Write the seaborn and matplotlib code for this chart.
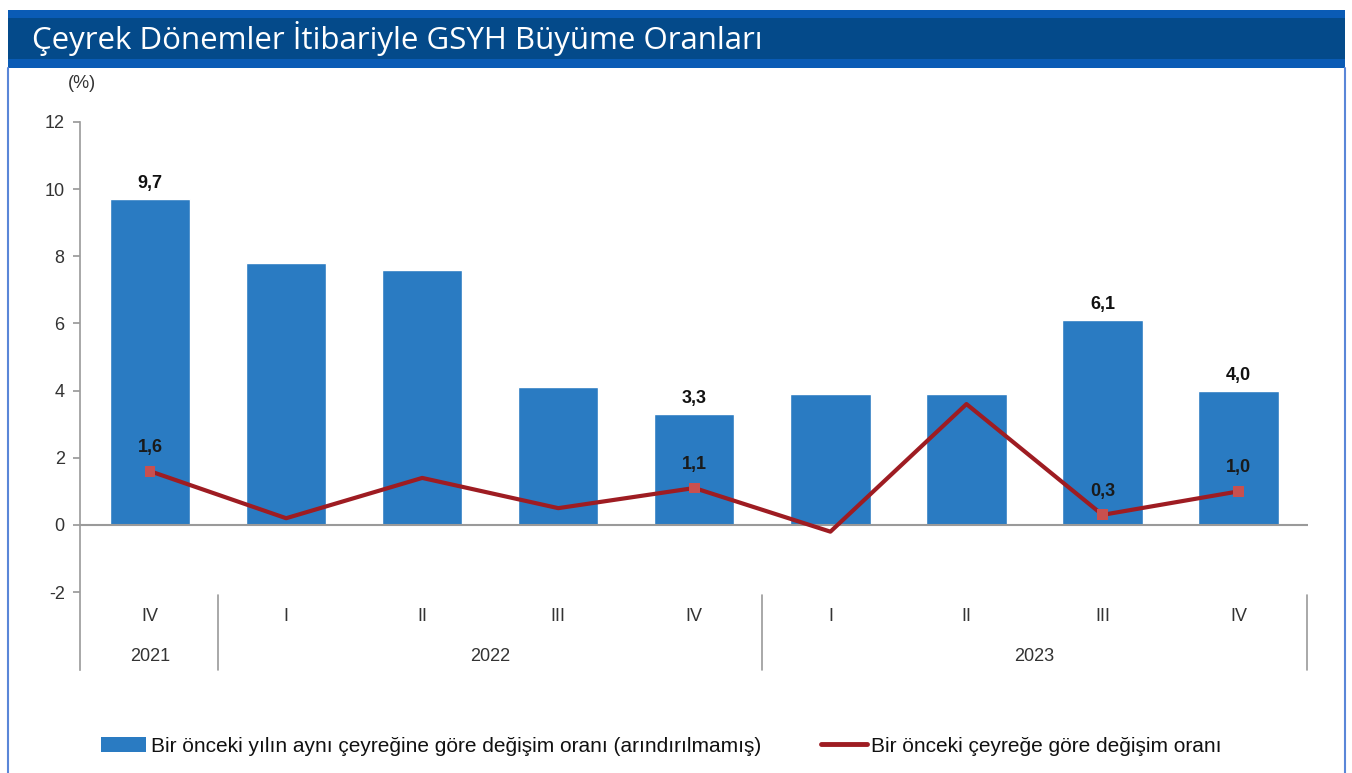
import numpy as np
import pandas as pd
import matplotlib
matplotlib.use("Agg")
import matplotlib.pyplot as plt
import seaborn as sns
from matplotlib.patches import Rectangle, Patch
from matplotlib.lines import Line2D

# data
quarters = ["IV", "I", "II", "III", "IV", "I", "II", "III", "IV"]
years = ["2021", "2022", "2022", "2022", "2022", "2023", "2023", "2023", "2023"]
yoy = [9.7, 7.8, 7.6, 4.1, 3.3, 3.9, 3.9, 6.1, 4.0]
qoq = [1.6, 0.2, 1.4, 0.5, 1.1, -0.2, 3.6, 0.3, 1.0]
labelled = [0, 4, 7, 8]
year_groups = [("2021", 0, 0), ("2022", 1, 4), ("2023", 5, 8)]

title = "Çeyrek Dönemler İtibariyle GSYH Büyüme Oranları"
legend_labels = ["Bir önceki yılın aynı çeyreğine göre değişim oranı (arındırılmamış)",
                 "Bir önceki çeyreğe göre değişim oranı"]

BAR = "#2a7bc2"
LINE = "#9e1c22"
MARK = "#c8504f"
GRAY = "#9a9a9a"
TXT = "#333333"

sns.set_theme(style="white")
plt.rcParams["font.family"] = ["Liberation Sans", "DejaVu Sans"]
plt.rcParams["axes.unicode_minus"] = False

df = pd.DataFrame({"period": [f"{y}-{q}" for y, q in zip(years, quarters)],
                   "yoy": yoy, "qoq": qoq})
df["pos"] = np.arange(len(df))

fig = plt.figure(figsize=(13.52, 7.73), dpi=100)
W, H = 1352, 773

# title band
fig.patches.append(Rectangle((8 / W, 1 - 68 / H), 1337 / W, 58 / H, transform=fig.transFigure,
                             facecolor="#0a5bb5", edgecolor="none"))
fig.patches.append(Rectangle((8 / W, 1 - 59 / H), 1337 / W, 41 / H, transform=fig.transFigure,
                             facecolor="#044a8a", edgecolor="none"))
# thin frame sides
for xp in (8, 1345):
    fig.add_artist(Line2D([xp / W, xp / W], [0, 1 - 68 / H], transform=fig.transFigure,
                          color="#5a86d8", lw=1.5))
fig.text(32 / W, 1 - 38 / H, title, color="white", fontsize=22.5, va="center", ha="left",
         family=["Open Sans", "DejaVu Sans"])

ax = fig.add_axes([80 / W, 1 - 670 / H, 1228 / W, 548 / H])
sns.barplot(data=df, x="period", y="yoy", color=BAR, width=0.59, saturation=1, ax=ax)
sns.lineplot(data=df, x="pos", y="qoq", color=LINE, lw=3, ax=ax)
sub = df.iloc[labelled]
sns.scatterplot(data=sub, x="pos", y="qoq", marker="s", s=60, color=MARK, edgecolor="none",
                zorder=4, ax=ax)

ax.set_xlim(-0.515, 8.51)
ax.set_ylim(-4.32, 12)
ax.set_yticks(range(-2, 13, 2))
ax.set_xticks([])
ax.set_xlabel("")
ax.set_ylabel("")
ax.tick_params(axis="y", left=True, length=5, color=GRAY, labelsize=13, labelcolor=TXT, pad=6)
for s in ["top", "right", "bottom"]:
    ax.spines[s].set_visible(False)
ax.spines["left"].set_color(GRAY)
ax.spines["left"].set_linewidth(1.2)
ax.axhline(0, color=GRAY, lw=1.5, zorder=1)

for i in labelled:
    ax.annotate(f"{yoy[i]:.1f}".replace(".", ","), (i, yoy[i]), xytext=(0, 5),
                textcoords="offset points", ha="center", va="bottom", fontsize=13,
                fontweight="bold", color="#111111")
    ax.annotate(f"{qoq[i]:.1f}".replace(".", ","), (i, qoq[i]), xytext=(0, 11),
                textcoords="offset points", ha="center", va="bottom", fontsize=13,
                fontweight="bold", color="#1a1a1a")

# category axis below
for i, q in enumerate(quarters):
    ax.text(i, -2.74, q, ha="center", va="center", fontsize=13, color=TXT)
for name, a, b in year_groups:
    ax.text((a + b) / 2, -3.93, name, ha="center", va="center", fontsize=13, color=TXT)
for xs in (0.5, 4.5, 8.5):
    ax.plot([xs, xs], [-2.1, -4.32], color=GRAY, lw=1.2, clip_on=False)

fig.text(68 / W, 1 - 84 / H, "(%)", fontsize=13, color=TXT, ha="left", va="center")

handles = [Patch(facecolor=BAR, edgecolor="none"), Line2D([0], [0], color=LINE, lw=3.5)]
fig.legend(handles, legend_labels, loc="center", bbox_to_anchor=(0.489, 1 - 746 / H), ncol=2,
           frameon=False, fontsize=15, handlelength=2.2, handletextpad=0.2, columnspacing=2.9,
           labelcolor="#111111")

fig.savefig("out.png", dpi=100)
